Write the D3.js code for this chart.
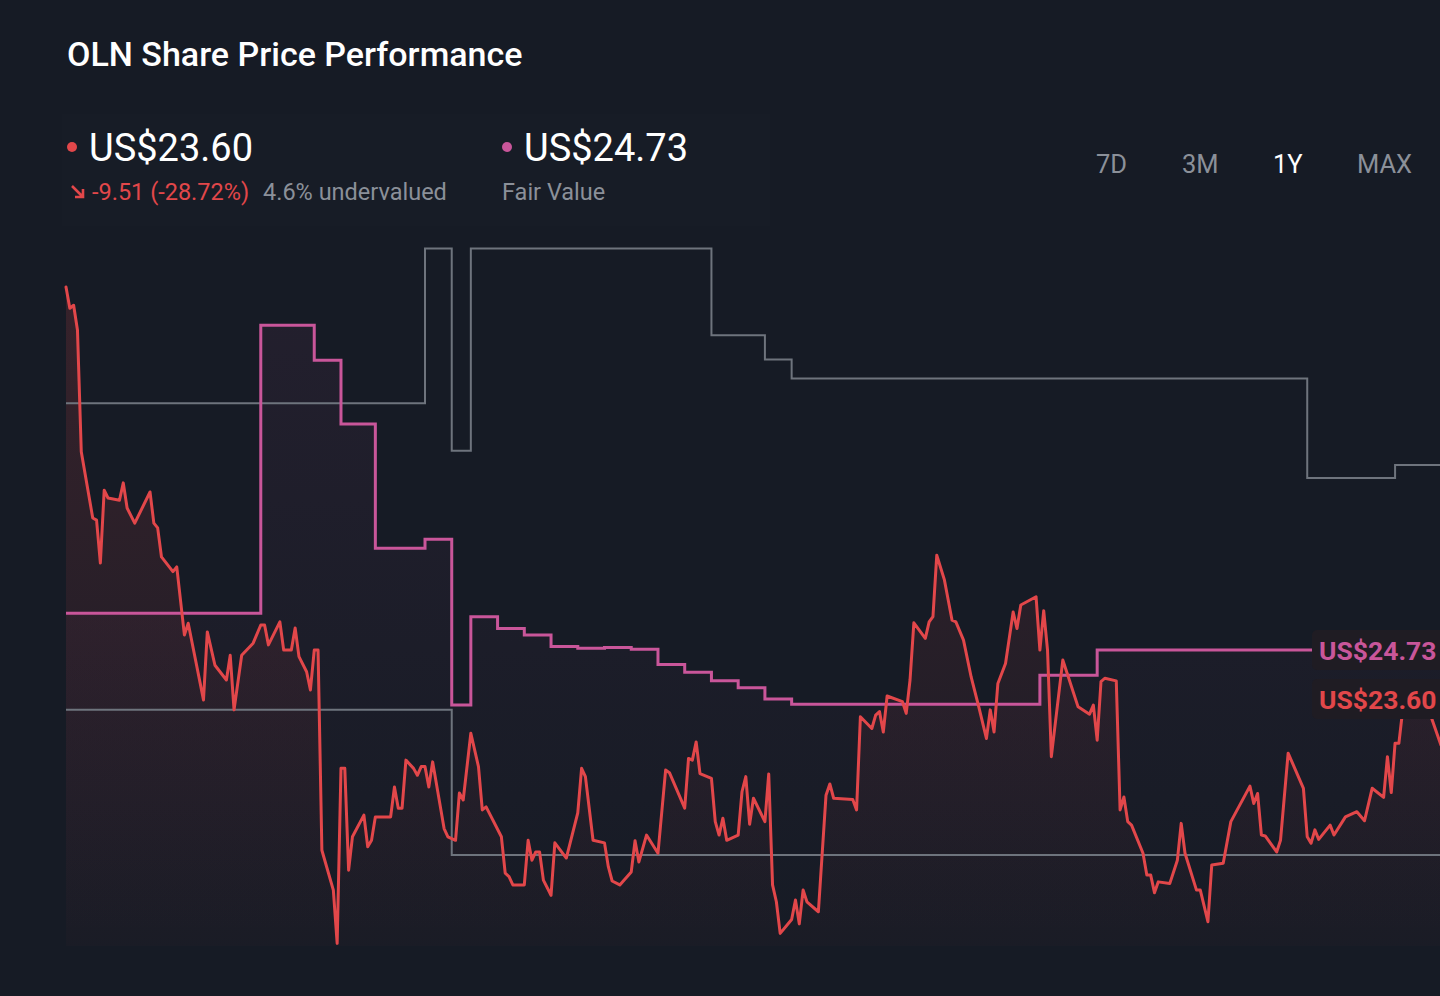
<!DOCTYPE html>
<html>
<head>
<meta charset="utf-8">
<script src="https://cdn.jsdelivr.net/npm/d3@7/dist/d3.min.js"></script>
<style>
  html, body { margin: 0; padding: 0; background: #161b25; overflow: hidden; }
  svg { display: block; font-family: Roboto, "Noto Sans", sans-serif; }
</style>
</head>
<body>
<svg id="chart" width="1440" height="996"></svg>
<script>
// ---- Data ----
const title = "OLN Share Price Performance";
const lastPrice = 23.60;
const fairValue = 24.73;
const changeText = "-9.51 (-28.72%)";
const valuationText = "4.6% undervalued";
const ranges = ["7D", "3M", "1Y", "MAX"];
const activeRange = "1Y";

// Calendar-day offsets over the one-year window and daily close (US$)
const priceDays = [0,1,2,3,4,7,8,9,10,11,14,15,16,18,22,23,24,25,28,29,31,32,36,37,39,42,43,44,46,49,51,52,53,56,57,59,60,61,63,64,65,66,67,70,71,72,73,74,75,78,79,80,81,85,86,87,88,89,91,92,93,94,95,96,99,100,102,103,104,106,108,109,110,114,115,116,117,120,121,122,123,124,125,127,128,131,134,135,136,138,141,142,143,145,148,149,150,152,155,157,158,162,163,164,165,166,169,170,171,172,173,176,177,178,179,180,183,184,185,186,187,190,191,192,193,194,197,199,200,201,206,207,208,211,212,213,214,215,219,220,221,222,225,226,227,228,230,232,233,235,237,239,241,242,243,244,246,248,249,250,254,255,256,257,258,261,265,268,269,270,271,272,275,276,277,278,279,282,283,284,285,286,289,291,292,293,296,297,299,300,303,305,310,311,312,313,314,317,318,320,321,324,325,326,327,328,331,332,335,338,340,342,345,346,347,348,349,350,351,353,357,360,365];
const priceValues = [33.11,32.62,32.69,32.12,29.31,27.78,27.73,26.74,28.42,28.24,28.19,28.59,28.01,27.66,28.38,27.66,27.55,26.88,26.54,26.65,25.08,25.35,23.58,25.15,24.38,24.04,24.61,23.35,24.61,24.89,25.31,25.31,24.85,25.38,24.73,24.73,25.24,24.58,24.23,23.81,24.73,24.73,20.11,19.19,17.96,22.00,22.00,19.65,20.42,20.92,20.19,20.34,20.88,20.88,21.57,21.08,21.08,22.19,22.00,21.84,22.04,22.04,21.57,22.15,20.61,20.42,20.34,21.43,21.27,22.81,22.04,21.04,21.11,20.42,19.58,19.50,19.31,19.31,20.34,19.88,20.07,20.07,19.42,19.07,20.28,19.93,20.97,22.00,21.81,20.34,20.28,19.73,19.40,19.31,19.61,20.33,19.84,20.46,20.04,21.96,21.90,21.08,22.23,22.19,22.61,21.88,21.77,20.77,20.46,20.85,20.34,20.46,21.46,21.81,20.71,21.31,20.77,21.87,19.31,18.92,18.19,18.51,18.96,18.41,19.19,18.92,18.69,21.38,21.64,21.31,21.28,21.04,23.19,22.92,23.23,23.31,22.84,23.67,23.54,23.27,24.04,25.36,25.00,25.38,25.50,26.92,26.35,25.42,25.38,24.96,24.11,23.42,22.69,23.35,22.84,23.96,24.42,25.61,25.23,25.77,25.96,24.73,25.64,24.73,22.27,24.50,23.42,23.25,23.46,22.65,24.00,24.08,24.02,21.04,21.34,20.77,20.69,20.04,19.54,19.54,19.13,19.38,19.34,19.88,20.73,20.04,19.19,19.19,18.46,19.77,19.81,20.77,21.59,21.19,21.42,20.46,20.44,20.07,20.34,22.35,22.15,21.54,20.42,20.27,20.58,20.36,20.69,20.46,20.88,21.00,20.79,21.54,21.33,22.27,21.44,22.58,22.58,23.35,23.53,23.69,23.30,22.54,23.60];

// Fair value estimate (steps)
const fairDays   = [0,51,65,72,81,94,101,106,113,120,127,134,141,148,155,162,169,176,183,190,255,270,365];
const fairValues = [25.58,32.23,31.42,29.95,27.08,27.29,23.46,25.50,25.23,25.08,24.81,24.77,24.79,24.75,24.40,24.22,24.02,23.86,23.60,23.48,24.15,24.73,24.73];

// Analyst high / low price targets (steps)
const highDays   = [0,94,101,106,169,183,190,325,348,365];
const highValues = [30.43,34.00,29.33,34.00,32.00,31.44,31.00,28.70,29.00,29.00];
const lowDays    = [0,101,365];
const lowValues  = [23.35,20.00,20.00];

// ---- Layout ----
const svg = d3.select("#chart");
const C = {
  bg: "#161b25", red: "#e2474a", pink: "#c9569a", grey: "#6e747d",
  text: "#ffffff", muted: "#8b9099", label: "#1f1c23"
};

const x = d3.scaleLinear().domain([0, 365]).range([66, 1460]);
const y = d3.scaleLinear().domain([20, 34]).range([855, 248.5]);
const yBottom = 946;

const zip = (a, b) => a.map((d, i) => ({ d, v: b[i] }));
const price = zip(priceDays, priceValues);
const fair = zip(fairDays, fairValues);
const high = zip(highDays, highValues);
const low = zip(lowDays, lowValues);

const defs = svg.append("defs");
const gRed = defs.append("linearGradient").attr("id", "gRed")
  .attr("gradientUnits", "userSpaceOnUse").attr("x1", 0).attr("x2", 0)
  .attr("y1", y(d3.max(priceValues))).attr("y2", yBottom);
gRed.append("stop").attr("offset", 0).attr("stop-color", C.red).attr("stop-opacity", 0.16);
gRed.append("stop").attr("offset", 1).attr("stop-color", C.red).attr("stop-opacity", 0.02);
const gPink = defs.append("linearGradient").attr("id", "gPink")
  .attr("gradientUnits", "userSpaceOnUse").attr("x1", 0).attr("x2", 0)
  .attr("y1", y(d3.max(fairValues))).attr("y2", yBottom);
gPink.append("stop").attr("offset", 0).attr("stop-color", C.pink).attr("stop-opacity", 0.07);
gPink.append("stop").attr("offset", 1).attr("stop-color", C.pink).attr("stop-opacity", 0.0);

svg.append("rect").attr("width", 1440).attr("height", 996).attr("fill", C.bg);
// faint header panel
svg.append("rect").attr("x", 62).attr("y", 114).attr("width", 708).attr("height", 112)
  .attr("fill", "#ffffff").attr("fill-opacity", 0.006);

const g = svg.append("g");

// areas
g.append("path").datum(fair)
  .attr("d", d3.area().curve(d3.curveStepAfter).x(p => x(p.d)).y0(yBottom).y1(p => y(p.v)))
  .attr("fill", "url(#gPink)");
g.append("path").datum(price)
  .attr("d", d3.area().x(p => x(p.d)).y0(yBottom).y1(p => y(p.v)))
  .attr("fill", "url(#gRed)");

// analyst range lines
const step = d3.line().curve(d3.curveStepAfter).x(p => x(p.d)).y(p => y(p.v));
[high, low].forEach(s => {
  g.append("path").datum(s).attr("d", step)
    .attr("fill", "none").attr("stroke", C.grey).attr("stroke-width", 2);
});

// fair value line
g.append("path").datum(fair).attr("d", step)
  .attr("fill", "none").attr("stroke", C.pink).attr("stroke-width", 3);

// price line
g.append("path").datum(price)
  .attr("d", d3.line().x(p => x(p.d)).y(p => y(p.v)))
  .attr("fill", "none").attr("stroke", C.red).attr("stroke-width", 3)
  .attr("stroke-linejoin", "round").attr("stroke-linecap", "round");

// right-side value labels
const fmt = v => "US$" + v.toFixed(2);
[[fairValue, C.pink], [lastPrice, C.red]].forEach(([v, col]) => {
  const cy = y(v);
  svg.append("rect").attr("x", 1312).attr("y", cy - 20).attr("width", 160).attr("height", 40)
    .attr("rx", 5).attr("fill", C.label);
  svg.append("text").attr("x", 1319).attr("y", cy + 9.5)
    .attr("fill", col).attr("font-size", 26.5).attr("font-weight", 700)
    .text(fmt(v));
});

// ---- Header ----
svg.append("text").attr("x", 67).attr("y", 66).attr("fill", C.text)
  .attr("font-size", 34).attr("font-weight", 500).text(title);

svg.append("circle").attr("cx", 72).attr("cy", 147).attr("r", 5).attr("fill", C.red);
svg.append("text").attr("x", 89).attr("y", 161).attr("fill", C.text)
  .attr("font-size", 38).text(fmt(lastPrice));

svg.append("circle").attr("cx", 507).attr("cy", 147).attr("r", 5).attr("fill", C.pink);
svg.append("text").attr("x", 524).attr("y", 161).attr("fill", C.text)
  .attr("font-size", 38).text(fmt(fairValue));

// down arrow icon
svg.append("path").attr("d", "M72,186 L83,197 M83,189 L83,197 L75,197")
  .attr("fill", "none").attr("stroke", C.red).attr("stroke-width", 2.6);
svg.append("text").attr("x", 92).attr("y", 200).attr("fill", C.red)
  .attr("font-size", 23.5).text(changeText);
svg.append("text").attr("x", 263).attr("y", 200).attr("fill", C.muted)
  .attr("font-size", 23.5).text(valuationText);
svg.append("text").attr("x", 502).attr("y", 200).attr("fill", C.muted)
  .attr("font-size", 23.5).text("Fair Value");

// range buttons
const btnX = [1096, 1182, 1273, 1357];
ranges.forEach((r, i) => {
  svg.append("text").attr("x", btnX[i]).attr("y", 173)
    .attr("fill", r === activeRange ? C.text : C.muted)
    .attr("font-size", 25.5).text(r);
});
</script>
</body>
</html>
